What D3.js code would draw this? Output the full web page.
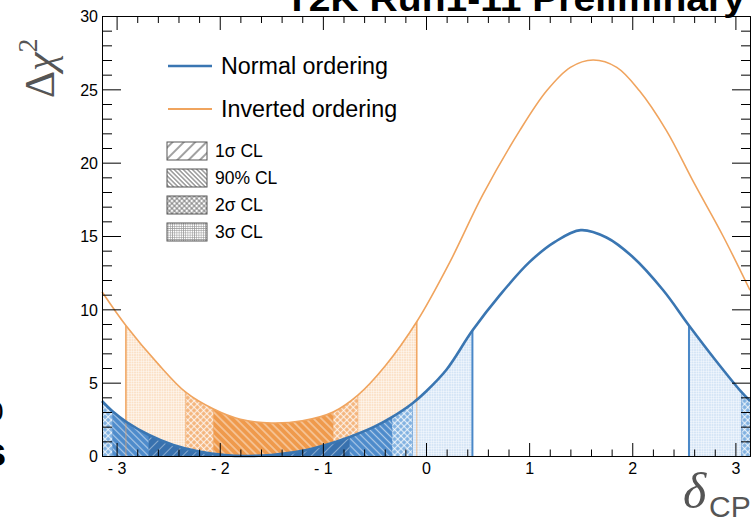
<!DOCTYPE html>
<html>
<head>
<meta charset="utf-8">
<script src="https://cdn.jsdelivr.net/npm/d3@7"></script>
<style>
body { margin: 0; background: #fff; }
svg { display: block; font-family: 'Liberation Sans', Arial, Helvetica, sans-serif; }
</style>
</head>
<body>
<div id="chart"></div>
<script>
// delta chi2 vs delta_cp
const normalDelta = [-3.1416, -3.04, -2.9, -2.69, -2.45, -2.2, -1.95, -1.75, -1.5, -1.2, -0.95, -0.74, -0.5, -0.33, -0.13, 0.0, 0.2, 0.45, 0.72, 1.0, 1.25, 1.5, 1.75, 2.0, 2.3, 2.55, 2.8, 3.06, 3.1416];
const normalChi2 = [3.75, 3.05, 2.3, 1.45, 0.75, 0.3, 0.06, 0.0, 0.07, 0.35, 0.8, 1.3, 2.0, 2.65, 3.6, 4.4, 5.9, 8.55, 11.0, 13.2, 14.6, 15.4, 14.9, 13.6, 11.3, 8.9, 6.6, 4.35, 3.75];
const invertedDelta = [-3.1416, -2.91, -2.6, -2.33, -2.06, -1.8, -1.5, -1.2, -0.9, -0.66, -0.4, -0.09, 0.23, 0.55, 0.91, 1.17, 1.4, 1.62, 1.85, 2.07, 2.33, 2.6, 2.88, 3.1416];
const invertedChi2 = [11.2, 8.9, 6.3, 4.35, 3.2, 2.5, 2.25, 2.4, 3.0, 4.15, 6.1, 9.15, 13.2, 17.8, 22.2, 24.9, 26.5, 27.0, 26.5, 24.9, 22.2, 18.6, 15.0, 11.3];

// confidence regions [from, to]
const normal3sigma = [[-3.1416, 0.45], [2.55, 3.1416]];
const normal2sigma = [[-3.1416, -0.13], [3.06, 3.1416]];
const normal90 = [[-3.04, -0.33]];
const normal1sigma = [[-2.69, -0.74]];
const inverted3sigma = [[-2.91, -0.09]];
const inverted2sigma = [[-2.33, -0.66]];
const inverted90 = [[-2.06, -0.9]];

const xTicks = [-3, -2, -1, 0, 1, 2, 3];
const xTickLabels = ['- 3', '- 2', '- 1', '0', '1', '2', '3'];
const yTicks = [0, 5, 10, 15, 20, 25, 30];
const orderingLabels = ['Normal ordering', 'Inverted ordering'];
const clLabels = ['1σ CL', '90% CL', '2σ CL', '3σ CL'];

// dimension stuff
const width = 751;
const height = 519;
const plotLeft = 102;
const plotRight = 750;
const plotTop = 16;
const plotBottom = 456;

const blue = '#3a76b2';
const orange = '#f0a45e';

const scaleX = d3.scaleLinear().domain([-Math.PI, Math.PI]).range([plotLeft, plotRight]);
const scaleY = d3.scaleLinear().domain([0, 30]).range([plotBottom, plotTop]);

const $svg = d3.select('#chart').append('svg')
	.attr('width', width)
	.attr('height', height);
const $defs = $svg.append('defs');

// hatch patterns, kind: fwd "/", back "\", cross, grid
function makePattern(id, bg, stroke, opacity, size, lineWidth, kind) {
	const angle = kind === 'fwd' || kind === 'cross' ? 45 : kind === 'back' ? -45 : 0;
	const $p = $defs.append('pattern')
		.attr('id', id)
		.attr('patternUnits', 'userSpaceOnUse')
		.attr('width', size)
		.attr('height', size)
		.attr('patternTransform', `rotate(${angle})`);
	$p.append('rect').attr('width', size).attr('height', size).attr('fill', bg);
	$p.append('line')
		.attr('x1', size / 2).attr('x2', size / 2).attr('y1', 0).attr('y2', size)
		.attr('stroke', stroke).attr('stroke-width', lineWidth).attr('stroke-opacity', opacity);
	if (kind === 'cross' || kind === 'grid') {
		$p.append('line')
			.attr('y1', size / 2).attr('y2', size / 2).attr('x1', 0).attr('x2', size)
			.attr('stroke', stroke).attr('stroke-width', lineWidth).attr('stroke-opacity', opacity);
	}
}

makePattern('no1', '#3871ae', '#fff', 0.4, 7, 1, 'fwd');
makePattern('no90', '#4d8bcb', '#fff', 0.55, 5, 1.2, 'back');
makePattern('no2', '#7fb0e0', '#fff', 0.75, 4.5, 1.2, 'cross');
makePattern('no3', '#d3e4f5', '#fff', 0.6, 2.5, 0.8, 'grid');
makePattern('io90', '#ef9a4c', '#fff', 0.55, 5.5, 1.3, 'back');
makePattern('io2', '#f4b47a', '#fff', 0.75, 4.5, 1.2, 'cross');
makePattern('io3', '#fbe0c6', '#fff', 0.6, 2.5, 0.8, 'grid');
makePattern('lg1', '#fff', '#444', 1, 8, 1, 'fwd');
makePattern('lg90', '#fff', '#555', 1, 3.2, 0.9, 'back');
makePattern('lg2', '#fff', '#666', 1, 3.5, 0.8, 'cross');
makePattern('lg3', '#fff', '#999', 1, 2.2, 0.6, 'grid');

const normalData = normalDelta.map((d, i) => ({ d, v: normalChi2[i] }));
const invertedData = invertedDelta.map((d, i) => ({ d, v: invertedChi2[i] }));

const line = d3.line()
	.x(p => scaleX(p.d))
	.y(p => scaleY(p.v))
	.curve(d3.curveCatmullRom.alpha(0.5));
const area = d3.area()
	.x(p => scaleX(p.d))
	.y0(scaleY(0))
	.y1(p => scaleY(p.v))
	.curve(d3.curveCatmullRom.alpha(0.5));

// clip each ordering's fills to the area under its curve
$defs.append('clipPath').attr('id', 'underNO').append('path').attr('d', area(normalData));
$defs.append('clipPath').attr('id', 'underIO').append('path').attr('d', area(invertedData));

function drawBands($g, intervals, fill, edge, edgeWidth, edgeOpacity) {
	$g.append('g').selectAll('rect').data(intervals).join('rect')
		.attr('x', r => scaleX(r[0]))
		.attr('width', r => scaleX(r[1]) - scaleX(r[0]))
		.attr('y', plotTop)
		.attr('height', plotBottom - plotTop)
		.attr('fill', `url(#${fill})`);
	const edges = intervals.flat().filter(v => Math.abs(v) < 3.14);
	$g.append('g').selectAll('line').data(edges).join('line')
		.attr('x1', v => scaleX(v)).attr('x2', v => scaleX(v))
		.attr('y1', plotTop).attr('y2', plotBottom)
		.attr('stroke', edge)
		.attr('stroke-width', edgeWidth)
		.attr('stroke-opacity', edgeOpacity);
}

const $io = $svg.append('g').attr('clip-path', 'url(#underIO)');
drawBands($io, inverted3sigma, 'io3', orange, 1.5, 0.9);
drawBands($io, inverted2sigma, 'io2', orange, 1, 0.6);
drawBands($io, inverted90, 'io90', orange, 1, 0.5);

const $no = $svg.append('g').attr('clip-path', 'url(#underNO)');
drawBands($no, normal3sigma, 'no3', '#4a88c8', 2, 1);
drawBands($no, normal2sigma, 'no2', '#4a88c8', 1, 0.5);
drawBands($no, normal90, 'no90', '#4a88c8', 1, 0.4);
drawBands($no, normal1sigma, 'no1', '#4a88c8', 1, 0.3);

// orange edges show through the blue fills
const $ioEdges = $svg.append('g').attr('clip-path', 'url(#underIO)');
$ioEdges.selectAll('line').data(inverted3sigma.flat()).join('line')
	.attr('x1', v => scaleX(v)).attr('x2', v => scaleX(v))
	.attr('y1', plotTop).attr('y2', plotBottom)
	.attr('stroke', orange).attr('stroke-width', 1.2).attr('stroke-opacity', 0.55);

// curves
$svg.append('path').attr('d', line(invertedData))
	.attr('fill', 'none').attr('stroke', orange).attr('stroke-width', 1.6);
$svg.append('path').attr('d', line(normalData))
	.attr('fill', 'none').attr('stroke', blue).attr('stroke-width', 2.6);

// axes, ROOT style ticks pointing inwards
const xMinor = d3.range(-16, 17).map(i => i * 0.2).filter(v => Math.abs(v) < Math.PI && Math.abs(v - Math.round(v)) > 1e-6);
const yMinor = d3.range(0, 31).filter(v => v % 5 !== 0);

function styleAxis($g) {
	$g.select('.domain').attr('stroke', '#000').attr('stroke-width', 1);
	$g.selectAll('.tick line').attr('stroke', '#000').attr('stroke-width', 1);
	$g.selectAll('.tick text')
		.attr('fill', '#000')
		.attr('font-size', 16)
		.attr('font-family', "'Liberation Sans', Arial, Helvetica, sans-serif");
}

const $xAxis = $svg.append('g').attr('transform', `translate(0,${plotBottom})`)
	.call(d3.axisBottom(scaleX).tickValues(xTicks).tickSizeInner(-13).tickSizeOuter(0).tickPadding(7)
		.tickFormat((d, i) => xTickLabels[i]));
styleAxis($xAxis);
styleAxis($svg.append('g').attr('transform', `translate(0,${plotBottom})`)
	.call(d3.axisBottom(scaleX).tickValues(xMinor).tickSizeInner(-6.5).tickSizeOuter(0).tickFormat('')));

const $yAxis = $svg.append('g').attr('transform', `translate(${plotLeft},0)`)
	.call(d3.axisLeft(scaleY).tickValues(yTicks).tickSizeInner(-19).tickSizeOuter(0).tickPadding(4));
styleAxis($yAxis);
$yAxis.selectAll('.tick text').attr('dy', '0.36em');
styleAxis($svg.append('g').attr('transform', `translate(${plotLeft},0)`)
	.call(d3.axisLeft(scaleY).tickValues(yMinor).tickSizeInner(-10).tickSizeOuter(0).tickFormat('')));

styleAxis($svg.append('g').attr('transform', `translate(0,${plotTop})`)
	.call(d3.axisTop(scaleX).tickValues(xTicks).tickSizeInner(-14).tickSizeOuter(0).tickFormat('')));
styleAxis($svg.append('g').attr('transform', `translate(0,${plotTop})`)
	.call(d3.axisTop(scaleX).tickValues(xMinor).tickSizeInner(-7).tickSizeOuter(0).tickFormat('')));
styleAxis($svg.append('g').attr('transform', `translate(${plotRight},0)`)
	.call(d3.axisRight(scaleY).tickValues(yTicks).tickSizeInner(-18).tickSizeOuter(0).tickFormat('')));
styleAxis($svg.append('g').attr('transform', `translate(${plotRight},0)`)
	.call(d3.axisRight(scaleY).tickValues(yMinor).tickSizeInner(-9).tickSizeOuter(0).tickFormat('')));

// axis titles
const $yTitle = $svg.append('text')
	.attr('transform', `translate(54,98) rotate(-90)`)
	.attr('fill', '#555')
	.attr('font-family', "'Liberation Serif', 'DejaVu Serif', serif")
	.attr('font-size', 42);
$yTitle.append('tspan').text('Δ');
$yTitle.append('tspan').attr('font-style', 'italic').text('χ');
$yTitle.append('tspan').attr('font-size', 28).attr('dy', -17).text('2');

$svg.append('text')
	.attr('x', 683).attr('y', 508)
	.attr('fill', '#555')
	.attr('font-family', "'Liberation Serif', 'DejaVu Serif', serif")
	.attr('font-style', 'italic')
	.attr('font-size', 50)
	.text('δ');
$svg.append('text')
	.attr('x', 709).attr('y', 517)
	.attr('fill', '#555')
	.attr('font-size', 30)
	.text('CP');

// title, cut by the top edge
$svg.append('text')
	.attr('x', 285).attr('y', 11)
	.attr('font-weight', 'bold')
	.attr('font-size', 35)
	.attr('textLength', 460)
	.attr('lengthAdjust', 'spacingAndGlyphs')
	.text('T2K Run1-11 Preliminary');

// leftovers of the neighbouring panel
$svg.append('text').attr('x', -12).attr('y', 421).attr('font-size', 28).text('0');
$svg.append('text').attr('x', -16).attr('y', 466).attr('font-size', 40).attr('font-weight', 'bold').text('s');

// legend
const $legend = $svg.append('g');
const legendRows = $legend.selectAll('g.ord').data(orderingLabels).join('g')
	.attr('class', 'ord')
	.attr('transform', (d, i) => `translate(168,${66 + i * 43})`);
legendRows.append('line')
	.attr('x1', 0).attr('x2', 44)
	.attr('stroke', (d, i) => i === 0 ? blue : orange)
	.attr('stroke-width', (d, i) => i === 0 ? 2.4 : 1.8);
legendRows.append('text')
	.attr('x', 53).attr('dy', '0.36em')
	.attr('font-size', 23.3)
	.text(d => d);

const clFills = ['lg1', 'lg90', 'lg2', 'lg3'];
const clRows = $legend.selectAll('g.cl').data(clLabels).join('g')
	.attr('class', 'cl')
	.attr('transform', (d, i) => `translate(167,${142 + i * 27})`);
clRows.append('rect')
	.attr('width', 40).attr('height', 18)
	.attr('fill', (d, i) => `url(#${clFills[i]})`)
	.attr('stroke', '#555').attr('stroke-width', 1);
clRows.append('text')
	.attr('x', 48).attr('y', 9).attr('dy', '0.36em')
	.attr('font-size', 17.5)
	.text(d => d);
</script>
</body>
</html>
